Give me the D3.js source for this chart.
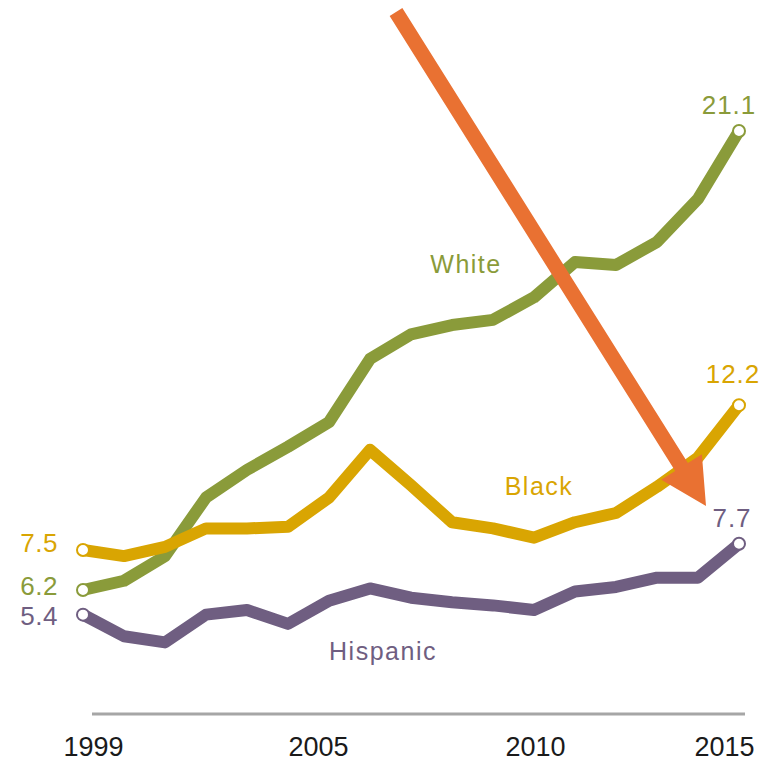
<!DOCTYPE html>
<html>
<head>
<meta charset="utf-8">
<script src="https://cdn.jsdelivr.net/npm/d3@7"></script>
<style>
  html, body { margin: 0; padding: 0; background: #fff; }
  svg { display: block; }
  text { font-family: "Liberation Sans", Arial, sans-serif; }
</style>
</head>
<body>
<svg id="chart" width="765" height="764"></svg>
<script>
const years = [1999,2000,2001,2002,2003,2004,2005,2006,2007,2008,2009,2010,2011,2012,2013,2014,2015];
const white    = [6.2,6.5,7.3,9.2,10.1,10.85,11.65,13.7,14.5,14.8,14.97,15.7,16.85,16.75,17.5,18.9,21.1];
const black    = [7.5,7.3,7.6,8.2,8.2,8.25,9.2,10.75,9.6,8.4,8.2,7.9,8.4,8.7,9.55,10.5,12.2];
const hispanic = [5.4,4.7,4.5,5.4,5.55,5.1,5.85,6.25,5.95,5.8,5.7,5.55,6.15,6.3,6.6,6.6,7.7];
const tickYears = [1999, 2005, 2010, 2015];
const seriesNames = ["White", "Black", "Hispanic"];

const svg = d3.select("#chart");
const x = d3.scaleLinear().domain([1999, 2015]).range([83, 739]);
const y = d3.scaleLinear().domain([0, 21.1]).range([781, 131]);

const series = [
  {name: seriesNames[0], values: white,    color: "#8a9b3a",
   label: {x: 466, y: 273}, startDy: 5, endDx: -10, endDy: -17},
  {name: seriesNames[1], values: black,    color: "#d9a502",
   label: {x: 539, y: 495}, startDy: 2, endDx: -6, endDy: -22},
  {name: seriesNames[2], values: hispanic, color: "#6f5e81",
   label: {x: 383, y: 660}, startDy: 10, endDx: -7, endDy: -17}
];

// x axis
svg.append("line").attr("x1", 92).attr("x2", 745).attr("y1", 714).attr("y2", 714)
  .attr("stroke", "#a6a6a6").attr("stroke-width", 3);
const tickDx = {1999: 10, 2005: -11, 2010: 1, 2015: -15};
const axis = d3.axisBottom(x).tickValues(tickYears).tickFormat(d3.format("d")).tickSize(0).tickPadding(0);
const ax = svg.append("g").attr("transform", "translate(0,714)").call(axis);
ax.select(".domain").remove();
ax.selectAll("text")
  .attr("y", 42).attr("dy", 0)
  .attr("dx", d => tickDx[d])
  .attr("font-size", 27)
  .attr("fill", "#1a1a1a")
  .style("font-family", "'Liberation Sans', Arial, sans-serif");

const line = d3.line().x((d, i) => x(years[i])).y(d => y(d)).curve(d3.curveLinear);

series.forEach(s => {
  svg.append("path").datum(s.values)
    .attr("d", line)
    .attr("fill", "none")
    .attr("stroke", s.color)
    .attr("stroke-width", 12)
    .attr("stroke-linejoin", "round")
    .attr("stroke-linecap", "butt");
});

const fmt = d3.format(".1f");
series.forEach(s => {
  const last = s.values.length - 1;
  [0, last].forEach(i => {
    svg.append("circle")
      .attr("cx", x(years[i])).attr("cy", y(s.values[i]))
      .attr("r", 6).attr("fill", "#fff")
      .attr("stroke", s.color).attr("stroke-width", 2);
  });
  svg.append("text").attr("x", s.label.x).attr("y", s.label.y)
    .attr("text-anchor", "middle").attr("font-size", 25)
    .attr("letter-spacing", 1.5)
    .attr("fill", s.color).text(s.name);
  svg.append("text")
    .attr("x", x(years[0]) - 25).attr("y", y(s.values[0]) + s.startDy)
    .attr("text-anchor", "end").attr("font-size", 26)
    .attr("letter-spacing", 0.5)
    .attr("fill", s.color).text(fmt(s.values[0]));
  svg.append("text")
    .attr("x", x(years[last]) + s.endDx).attr("y", y(s.values[last]) + s.endDy)
    .attr("text-anchor", "middle").attr("font-size", 26)
    .attr("letter-spacing", 1)
    .attr("fill", s.color).text(fmt(s.values[last]));
});

// orange annotation arrow
const ax0 = 396, ay0 = 12, ax1 = 706, ay1 = 506;
const ang = Math.atan2(ay1 - ay0, ax1 - ax0);
const headLen = 46, headHalf = 24, shaftHalf = 7.5;
const bx = ax1 - headLen * Math.cos(ang), by = ay1 - headLen * Math.sin(ang);
const nx = -Math.sin(ang), ny = Math.cos(ang);
const arrowPts = [
  [ax0 + nx * shaftHalf, ay0 + ny * shaftHalf],
  [bx + nx * shaftHalf, by + ny * shaftHalf],
  [bx + nx * headHalf, by + ny * headHalf],
  [ax1, ay1],
  [bx - nx * headHalf, by - ny * headHalf],
  [bx - nx * shaftHalf, by - ny * shaftHalf],
  [ax0 - nx * shaftHalf, ay0 - ny * shaftHalf]
];
svg.append("path")
  .attr("d", d3.line()(arrowPts) + "Z")
  .attr("fill", "#e97132");
</script>
</body>
</html>
